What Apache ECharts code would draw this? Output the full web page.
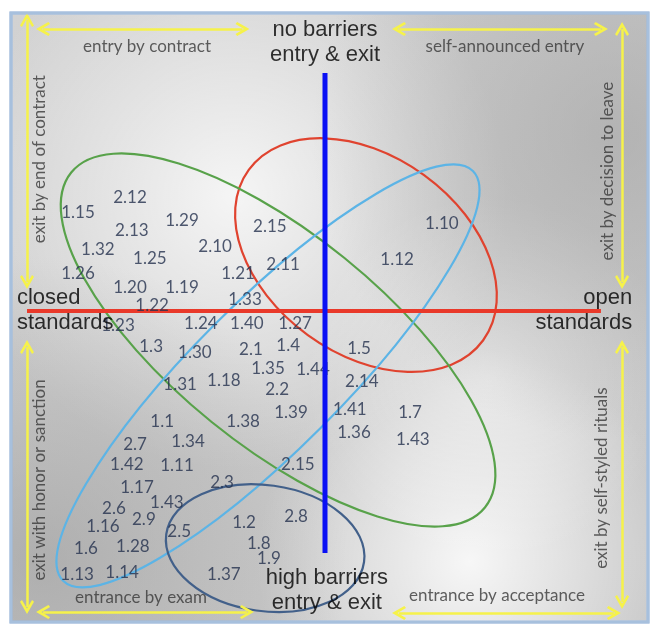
<!DOCTYPE html>
<html>
<head>
<meta charset="utf-8">
<script src="https://cdn.jsdelivr.net/npm/echarts@6/dist/echarts.min.js"></script>
<style>html,body{margin:0;padding:0;background:#fff}#c{width:654px;height:628px}</style>
</head>
<body>
<div id="c"></div>
<script>
// Numbered items placed on the openness (x) / barriers (y) plane
const pointLabels = ['2.12','1.15','2.13','1.29','1.32','1.25','2.10','2.15','2.11','1.26','1.20','1.19','1.21','1.33','1.22','1.23','1.24','1.40','1.27','1.3','1.30','2.1','1.4','1.35','1.44','1.5','2.2','1.31','1.18','2.14','1.39','1.41','1.7','1.36','1.43','1.1','1.38','2.7','1.34','1.42','1.11','2.15','1.17','2.3','2.6','1.43','2.9','1.16','2.5','1.2','2.8','1.6','1.28','1.8','1.9','1.13','1.14','1.37','1.10','1.12'];
const pointX = [-6.19,-7.84,-6.13,-4.54,-7.21,-5.56,-3.49,-1.75,-1.33,-7.84,-6.19,-4.54,-2.76,-2.54,-5.49,-6.57,-3.94,-2.48,-0.95,-5.52,-4.13,-2.35,-1.17,-1.81,-0.38,1.08,-1.52,-4.60,-3.21,1.17,-1.08,0.79,2.70,0.92,2.79,-5.17,-2.60,-6.03,-4.35,-6.29,-4.70,-0.86,-5.97,-3.27,-6.70,-5.02,-5.75,-7.05,-4.63,-2.57,-0.92,-7.59,-6.10,-2.10,-1.78,-7.87,-6.44,-3.21,3.71,2.29];
const pointY = [3.81,3.31,2.68,3.04,2.04,1.77,2.17,2.81,1.54,1.27,0.80,0.80,1.27,0.37,0.17,-0.50,-0.43,-0.43,-0.43,-1.20,-1.40,-1.30,-1.17,-1.94,-1.97,-1.27,-2.61,-2.47,-2.34,-2.37,-3.38,-3.31,-3.41,-4.05,-4.31,-3.68,-3.68,-4.45,-4.35,-5.15,-5.18,-5.15,-5.89,-5.75,-6.62,-6.39,-6.96,-7.22,-7.39,-7.09,-6.89,-7.93,-7.89,-7.76,-8.29,-8.80,-8.73,-8.80,2.94,1.71];

// Grouping ellipses: centre, semi-axes (x units), tilt in degrees
const ellipseCX = [1.30, -1.49, -1.81, -1.90];
const ellipseCY = [1.87, -0.97, -2.17, -7.93];
const ellipseA = [4.60, 8.45, 9.20, 3.17];
const ellipseB = [3.14, 3.35, 2.35, 2.00];
const ellipseAngle = [-36, -39, 45, -8];
const ellipseColors = ['#e0432f', '#58a24a', '#5cb4e6', '#42608a'];

// Axis titles
const titleTexts = ['no barriers\nentry & exit', 'closed\nstandards', 'open\nstandards', 'high barriers\nentry & exit'];
const titleX = [0, -9.78, 9.75, 0.06];
const titleY = [8.98, 0.03, 0.03, -9.35];
const titleAlign = ['center', 'left', 'right', 'center'];

// Edge annotations
const noteTexts = ['entry by contract','self-announced entry','entrance by exam','entrance by acceptance','exit by end of contract','exit by decision to leave','exit with honor or sanction','exit by self-styled rituals'];
const noteX = [-5.65, 5.71, -5.84, 5.46, -9.05, 8.98, -9.05, 8.79];
const noteY = [8.86, 8.86, -9.57, -9.50, 5.08, 4.68, -5.65, -5.59];
const noteRotate = [0, 0, 0, 0, 90, 90, 90, 90];

// Double-headed arrows along the edges
const arrowFromX = [-8.95, 2.35, -9.46, 9.43, -9.46, 9.43, -8.95, 2.35];
const arrowFromY = [9.43, 9.43, 9.73, 9.43, -1.20, -1.20, -10.07, -10.10];
const arrowToX = [-2.62, 8.76, -9.46, 9.43, -9.46, 9.43, -2.48, 9.17];
const arrowToY = [9.43, 9.43, 0.97, 0.97, -9.90, -9.73, -10.07, -10.10];

// Main axes
const hAxisX = [-9.46, 8.76];
const vAxisY = [7.96, -8.09];

const chart = echarts.init(document.getElementById('c'), null, {renderer: 'canvas'});

const FX = 11, FY = 13, FW = 637, FH = 609;
function bgRect(fill) {
  return {type: 'rect', silent: true, z: -10, shape: {x: FX, y: FY, width: FW, height: FH}, style: {fill: fill}};
}
const chevron = 'path://M5,0 L10,8 L8.6,9.1 L5,3.6 L1.4,9.1 L0,8 Z';

const option = {
  backgroundColor: '#ffffff',
  animation: false,
  graphic: [
    {type: 'rect', silent: true, z: -10, shape: {x: FX, y: FY, width: FW, height: FH},
     style: {fill: {type: 'linear', x: 0, y: 0, x2: 1, y2: 1, colorStops: [
       {offset: 0, color: '#d2d2d2'}, {offset: 0.5, color: '#cccccc'}, {offset: 1, color: '#c6c6c6'}]},
       stroke: '#a7c0dd', lineWidth: 3}},
    bgRect({type: 'radial', x: 0.35, y: 0.3, r: 0.45, colorStops: [{offset: 0, color: 'rgba(255,255,255,0.8)'}, {offset: 1, color: 'rgba(255,255,255,0)'}]}),
    bgRect({type: 'radial', x: 0.72, y: 0.9, r: 0.35, colorStops: [{offset: 0, color: 'rgba(255,255,255,0.85)'}, {offset: 1, color: 'rgba(255,255,255,0)'}]}),
    bgRect({type: 'radial', x: 0.75, y: 0.6, r: 0.3, colorStops: [{offset: 0, color: 'rgba(255,255,255,0.5)'}, {offset: 1, color: 'rgba(255,255,255,0)'}]}),
    bgRect({type: 'radial', x: 0.95, y: 0.2, r: 0.5, colorStops: [{offset: 0, color: 'rgba(160,160,160,0.55)'}, {offset: 1, color: 'rgba(160,160,160,0)'}]}),
    bgRect({type: 'radial', x: 0.05, y: 0.9, r: 0.5, colorStops: [{offset: 0, color: 'rgba(150,150,150,0.55)'}, {offset: 1, color: 'rgba(150,150,150,0)'}]}),
    {type: 'rect', silent: true, z: 20, shape: {x: FX, y: FY, width: FW, height: FH}, style: {fill: 'none', stroke: '#a7c0dd', lineWidth: 3}}
  ],
  grid: {left: 10, right: 14, top: 12, bottom: 18},
  xAxis: {type: 'value', min: -10, max: 10, show: false},
  yAxis: {type: 'value', min: -10, max: 10, show: false},
  series: [
    {
      type: 'custom',
      z: 3,
      silent: true,
      clip: false,
      encode: {x: 0, y: 1},
      data: ellipseCX.map((c, i) => [c, ellipseCY[i], ellipseA[i], ellipseB[i], ellipseAngle[i]]),
      renderItem: function (params, api) {
        const c = api.coord([api.value(0), api.value(1)]);
        const rx = api.size([api.value(2), 0])[0];
        const ry = api.size([api.value(3), 0])[0];
        return {
          type: 'ellipse',
          x: c[0], y: c[1],
          rotation: api.value(4) * Math.PI / 180,
          shape: {cx: 0, cy: 0, rx: rx, ry: ry},
          style: {fill: 'none', stroke: ellipseColors[params.dataIndex], lineWidth: 2.2}
        };
      }
    },
    {
      type: 'line', z: 4, silent: true, symbol: 'none',
      lineStyle: {color: '#e9392a', width: 4},
      data: hAxisX.map(x => [x, 0])
    },
    {
      type: 'lines', coordinateSystem: 'cartesian2d', z: 4, silent: true, clip: false,
      symbol: [chevron, chevron], symbolSize: 14,
      lineStyle: {color: '#f6f24a', width: 2.5, opacity: 1},
      itemStyle: {color: '#f6f24a'},
      data: arrowFromX.map((x, i) => ({coords: [[x, arrowFromY[i]], [arrowToX[i], arrowToY[i]]]}))
    },
    {
      type: 'scatter', z: 5, silent: true, symbolSize: 1,
      itemStyle: {color: 'rgba(0,0,0,0)'},
      label: {show: true, position: 'inside', formatter: '{b}', color: '#24314e',
              fontFamily: 'Lato', fontSize: 17},
      data: pointLabels.map((n, i) => ({name: n, value: [pointX[i], pointY[i]]}))
    },
    {
      type: 'line', z: 6, silent: true, symbol: 'none',
      lineStyle: {color: '#0a10f4', width: 5},
      data: vAxisY.map(y => [0, y])
    },
    {
      type: 'scatter', z: 7, silent: true, symbolSize: 1,
      itemStyle: {color: 'rgba(0,0,0,0)'},
      label: {show: true, position: 'inside', formatter: '{b}', color: '#383838',
              fontFamily: 'Lato', fontSize: 17},
      data: noteTexts.map((n, i) => ({name: n, value: [noteX[i], noteY[i]], label: {rotate: noteRotate[i]}}))
    },
    {
      type: 'scatter', z: 8, silent: true, symbolSize: 1,
      itemStyle: {color: 'rgba(0,0,0,0)'},
      label: {show: true, position: 'inside', formatter: '{b}', color: '#000000',
              fontFamily: 'Liberation Sans', fontSize: 22, lineHeight: 25},
      data: titleTexts.map((n, i) => ({name: n, value: [titleX[i], titleY[i]], label: {align: titleAlign[i]}}))
    }
  ]
};
chart.setOption(option);
</script>
</body>
</html>
